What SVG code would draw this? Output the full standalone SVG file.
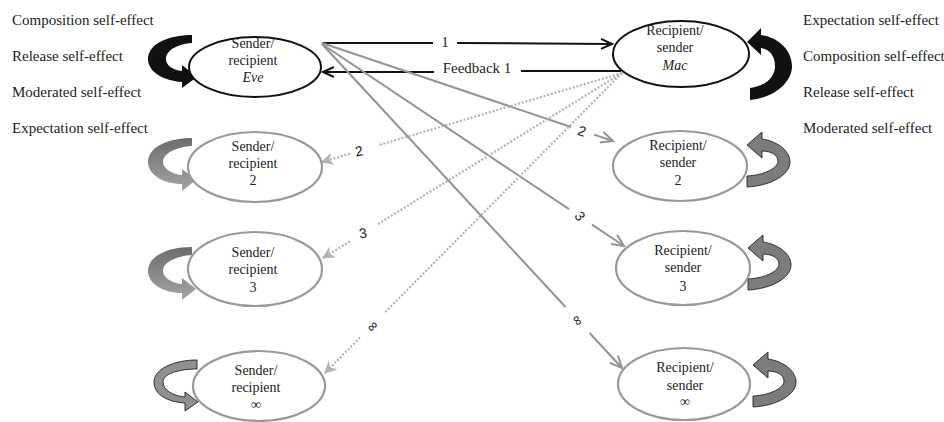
<svg xmlns="http://www.w3.org/2000/svg" width="944" height="422" viewBox="0 0 944 422">
<defs>
<style>
.lbl{font-family:"Liberation Serif","Times New Roman",serif;font-size:15px;fill:#222}
.nt{font-family:"Liberation Serif","Times New Roman",serif;font-size:14px;fill:#222;text-anchor:middle}
.it{font-style:italic}
.num{font-family:"Liberation Sans",Arial,sans-serif;font-size:14px;fill:#222;text-anchor:middle;dominant-baseline:central}
.eb{fill:#fff;stroke:#111;stroke-width:2}
.eg{fill:#fff;stroke:#999;stroke-width:2.2}
.cb{fill:none;stroke:#111;stroke-width:2}
.cg{fill:none;stroke:#939393;stroke-width:2}
.cd{fill:none;stroke:#b3b3b3;stroke-width:2.2;stroke-dasharray:2 1.8}
</style>
<linearGradient id="gGrey" x1="0" y1="0" x2="0" y2="1">
<stop offset="0" stop-color="#6c6c6c"/>
<stop offset="1" stop-color="#a4a4a4"/>
</linearGradient>
<marker id="mB" viewBox="-13 -7 15 14" markerWidth="15" markerHeight="14" refX="0" refY="0" orient="auto" markerUnits="userSpaceOnUse">
<path d="M-11,-5 L0,0 L-11,5" fill="none" stroke="#111" stroke-width="2"/>
</marker>
<marker id="mG" viewBox="-13 -7 15 14" markerWidth="15" markerHeight="14" refX="0" refY="0" orient="auto" markerUnits="userSpaceOnUse">
<path d="M-12,-5.5 L0,0 L-12,5.5" fill="none" stroke="#939393" stroke-width="2"/>
</marker>
<marker id="mD" viewBox="-13 -7 15 14" markerWidth="15" markerHeight="14" refX="0" refY="0" orient="auto" markerUnits="userSpaceOnUse">
<path d="M-10,-5 L0,0 L-10,5 L-7,0 Z" fill="#b3b3b3" stroke="#b3b3b3" stroke-width="1"/>
</marker>
<path id="leftArrow" d="M192,35 C168,35 148,44 148,59 C148,72 164,81 182,82 L182,88 L197,77 L182,65 L182,71 C172,70 166,65 166,59 C166,50 178,44 192,43 Z"/>
<path id="leftArrowThin" d="M192,35 C168,35 148,44 148,59 C148,72 164,81 182,81 L182,88 L196,77 L182,66 L182,72 C171,71 163,65 163,59 C163,50 177,44 192,43 Z"/>
<path id="rightArrow" d="M747,145 L762,132 L762,139 C776,141 790,150 790,162 C790,175 770,186 747,187 L747,176 C765,175 778,168 778,161 C778,155 771,151 762,151 L762,158 Z"/>
</defs>

<rect x="0" y="0" width="944" height="422" fill="#fff"/>

<g id="self-effect-labels">
<text class="lbl" x="12" y="25">Composition self-effect</text>
<text class="lbl" x="12" y="61">Release self-effect</text>
<text class="lbl" x="12" y="97">Moderated self-effect</text>
<text class="lbl" x="12" y="133">Expectation self-effect</text>
<text class="lbl" x="803" y="25">Expectation self-effect</text>
<text class="lbl" x="803" y="61">Composition self-effect</text>
<text class="lbl" x="803" y="97">Release self-effect</text>
<text class="lbl" x="803" y="133">Moderated self-effect</text>
</g>

<g id="connectors">
<path class="cb" d="M322,43 L433,43 M457,43 L612,44" marker-end="url(#mB)"/>
<text class="lbl" x="445" y="47" text-anchor="middle">1</text>
<path class="cb" d="M621,71 L521,71 M434,72 L323,72" marker-end="url(#mB)"/>
<text class="lbl" x="477" y="73" text-anchor="middle">Feedback 1</text>

<path class="cg" d="M322,43 L571,127 M594,134.6 L613,141" marker-end="url(#mG)"/>
<text class="num" transform="translate(582,131) rotate(18)">2</text>
<path class="cg" d="M322,44 L569,209.2 M592,224.6 L624,246" marker-end="url(#mG)"/>
<text class="num" transform="translate(580,216) rotate(52)">3</text>
<path class="cg" d="M322,44 L565.5,307 M589.6,333 L622,368" marker-end="url(#mG)"/>
<text class="num" transform="translate(578,320) rotate(60)">∞</text>

<path class="cd" d="M622,73 L378,145.4 M350,153.7 L322,162" marker-end="url(#mD)"/>
<text class="num" transform="translate(359,151) rotate(-10)">2</text>
<path class="cd" d="M622,73 L378,224 M350,241.3 L323,258" marker-end="url(#mD)"/>
<text class="num" transform="translate(363,233) rotate(-8)">3</text>
<path class="cd" d="M622,73 L385,312.4 M360,337.6 L325,373" marker-end="url(#mD)"/>
<text class="num" transform="translate(372,326) rotate(-45)">∞</text>
</g>

<g id="node-eve">
<use href="#leftArrow" fill="#111"/>
<ellipse class="eb" cx="255" cy="67" rx="66" ry="30"/>
<text class="nt" x="253" y="48">Sender/</text>
<text class="nt" x="253" y="65">recipient</text>
<text class="nt it" x="253" y="82">Eve</text>
</g>

<g id="node-mac">
<path d="M747,42 L761,28 L761,35 C778,37 792,50 792,66 C792,84 772,98 750,100 L750,88 C766,86 775,77 775,66 C775,55 769,49 761,48 L761,55 Z" fill="#111"/>
<ellipse class="eb" cx="681" cy="54" rx="68" ry="33"/>
<text class="nt" x="675" y="35">Recipient/</text>
<text class="nt" x="675" y="52">sender</text>
<text class="nt it" x="675" y="70">Mac</text>
</g>

<g id="node-sender-2">
<use href="#leftArrowThin" fill="url(#gGrey)" transform="translate(0,103)"/>
<ellipse class="eg" cx="255" cy="167" rx="67" ry="35"/>
<text class="nt" x="253" y="151">Sender/</text>
<text class="nt" x="253" y="168">recipient</text>
<text class="nt" x="253" y="185">2</text>
</g>

<g id="node-sender-3">
<use href="#leftArrowThin" fill="url(#gGrey)" transform="translate(0,212)"/>
<ellipse class="eg" cx="255" cy="269" rx="67" ry="37"/>
<text class="nt" x="253" y="257">Sender/</text>
<text class="nt" x="253" y="274">recipient</text>
<text class="nt" x="253" y="292">3</text>
</g>

<g id="node-sender-inf">
<path d="M197,360 C174,360 154,369 154,382 C154,395 168,402 185,403 L185,411 L198,402 L185,392 L185,397 C173,396 163,390 163,382 C163,374 178,369 197,369 Z" fill="#909090" stroke="#222" stroke-width="0.9"/>
<ellipse class="eg" cx="259" cy="386" rx="66" ry="35"/>
<text class="nt" x="256" y="375">Sender/</text>
<text class="nt" x="256" y="392">recipient</text>
<text class="nt" x="256" y="409">∞</text>
</g>

<g id="node-recipient-2">
<use href="#rightArrow" fill="#7c7c7c" stroke="#222" stroke-width="0.9"/>
<ellipse class="eg" cx="680" cy="166" rx="67" ry="35"/>
<text class="nt" x="678" y="150">Recipient/</text>
<text class="nt" x="678" y="167">sender</text>
<text class="nt" x="678" y="185">2</text>
</g>

<g id="node-recipient-3">
<use href="#rightArrow" fill="#7c7c7c" stroke="#222" stroke-width="0.9" transform="translate(1,103)"/>
<ellipse class="eg" cx="683" cy="268" rx="67" ry="37"/>
<text class="nt" x="683" y="255">Recipient/</text>
<text class="nt" x="683" y="272">sender</text>
<text class="nt" x="683" y="291">3</text>
</g>

<g id="node-recipient-inf">
<use href="#rightArrow" fill="#7c7c7c" stroke="#222" stroke-width="0.9" transform="translate(6,220)"/>
<ellipse class="eg" cx="684" cy="384" rx="66" ry="36"/>
<text class="nt" x="685" y="372">Recipient/</text>
<text class="nt" x="685" y="390">sender</text>
<text class="nt" x="685" y="406">∞</text>
</g>
</svg>
